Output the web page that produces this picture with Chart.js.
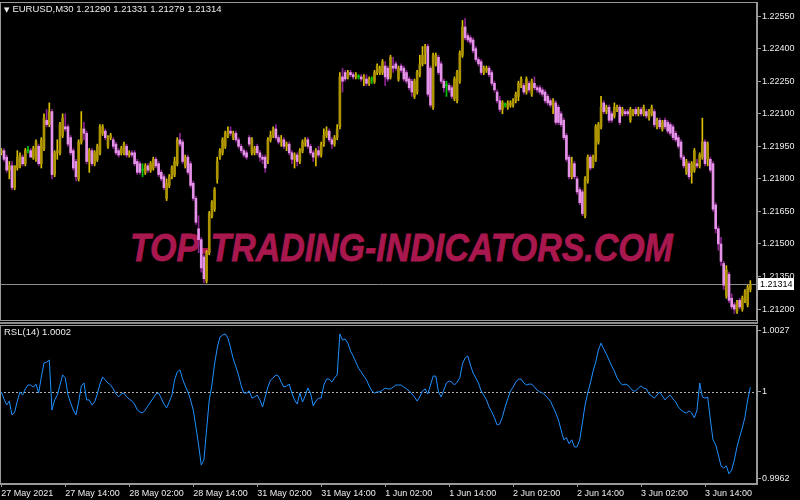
<!DOCTYPE html>
<html>
<head>
<meta charset="utf-8">
<title>EURUSD,M30 with RSL(14)</title>
<script src="https://cdn.jsdelivr.net/npm/chart.js@4.4.0/dist/chart.umd.min.js"></script>
<style>
  html, body { margin: 0; padding: 0; background: #000; }
  #wrap { position: relative; width: 800px; height: 500px; overflow: hidden; background: #000; font-family: "Liberation Sans", Arial, sans-serif; }
  #mark { position: absolute; left: 130px; top: 228px; font: italic bold 39px/39px "Liberation Sans", sans-serif; color: #a8184e; -webkit-text-stroke: 0.8px #a8184e; white-space: nowrap; transform-origin: 0 0; transform: scaleX(0.87); }
  canvas { position: absolute; left: 0; }
  #priceChart { top: 0; }
  #rslChart { top: 322px; }
  #sep { position: absolute; left: 0; top: 322px; width: 758px; height: 2px; background: #8c8c8c; }
  .label { position: absolute; color: #ececec; font-size: 9.5px; line-height: 11px; white-space: nowrap; }
  .tri { font-family: "DejaVu Sans", sans-serif; font-size: 7px; margin-right: 3px; }
</style>
</head>
<body>
<div id="wrap">
  <div id="mark">TOP-TRADING-INDICATORS.COM</div>
  <canvas id="priceChart" width="800" height="322"></canvas>
  <div id="sep"></div>
  <canvas id="rslChart" width="800" height="178"></canvas>
  <div class="label" style="left:4px; top:3px;"><span class="tri">▼</span><span id="head"></span></div>
  <div class="label" id="rslHead" style="left:4px; top:326px;"></div>
</div>
<script>
// chart text
const symbolTitle = 'EURUSD,M30';
const rslTitle = 'RSL(14)';
const tickLabels = ['27 May 2021', '27 May 14:00', '28 May 02:00', '28 May 14:00', '31 May 02:00', '31 May 14:00',
    '1 Jun 02:00', '1 Jun 14:00', '2 Jun 02:00', '2 Jun 14:00', '3 Jun 02:00', '3 Jun 14:00'];
const barsPerTick = 24;
const slotCount = 284; // 282 bars + empty shift at the right edge

// axes
const priceTicks = [1.2255, 1.224, 1.2225, 1.221, 1.2195, 1.218, 1.2165, 1.215, 1.2135, 1.212];
const priceMin = 1.21145, priceMax = 1.22615;
const rslTicks = [0.9962, 1, 1.0027];
const rslMin = 0.99598, rslMax = 1.00292;
const rslLevel = 1;

// M30 candles
const opens = [
    1.2192, 1.2193, 1.2190, 1.2184, 1.2186, 1.2176, 1.2185, 1.2186, 1.2190, 1.2187,
    1.2193, 1.2193, 1.2190, 1.2189, 1.2195, 1.2187, 1.2194, 1.2207, 1.2205, 1.2211,
    1.2182, 1.2192, 1.2192, 1.2200, 1.2204, 1.2204, 1.2199, 1.2193, 1.2188, 1.2180,
    1.2197, 1.2203, 1.2201, 1.2188, 1.2193, 1.2187, 1.2189, 1.2192, 1.2201, 1.2202,
    1.2195, 1.2199, 1.2198, 1.2196, 1.2193, 1.2192, 1.2192, 1.2195, 1.2191, 1.2192,
    1.2192, 1.2188, 1.2187, 1.2184, 1.2183, 1.2186, 1.2184, 1.2185, 1.2189, 1.2187,
    1.2183, 1.2181, 1.2171, 1.2177, 1.2181, 1.2182, 1.2187, 1.2198, 1.2197, 1.2186,
    1.2190, 1.2187, 1.2178, 1.2171, 1.2157, 1.2152, 1.2144, 1.2133, 1.2146, 1.2163,
    1.2166, 1.2180, 1.2190, 1.2192, 1.2195, 1.2200, 1.2202, 1.2199, 1.2201, 1.2198,
    1.2195, 1.2193, 1.2192, 1.2199, 1.2192, 1.2192, 1.2195, 1.2192, 1.2190, 1.2190,
    1.2189, 1.2198, 1.2200, 1.2203, 1.2199, 1.2197, 1.2198, 1.2195, 1.2196, 1.2192,
    1.2189, 1.2191, 1.2188, 1.2193, 1.2197, 1.2198, 1.2195, 1.2192, 1.2190, 1.2193,
    1.2191, 1.2196, 1.2200, 1.2202, 1.2198, 1.2196, 1.2199, 1.2204, 1.2227, 1.2229,
    1.2227, 1.2229, 1.2228, 1.2227, 1.2227, 1.2227, 1.2226, 1.2226, 1.2224, 1.2226,
    1.2225, 1.2229, 1.2229, 1.2229, 1.2232, 1.2231, 1.2227, 1.2232, 1.2233, 1.2226,
    1.2232, 1.2231, 1.2229, 1.2226, 1.2225, 1.2218, 1.2220, 1.2228, 1.2233, 1.2238,
    1.2241, 1.2231, 1.2213, 1.2233, 1.2236, 1.2233, 1.2225, 1.2223, 1.2223, 1.2222,
    1.2217, 1.2216, 1.2225, 1.2237, 1.2250, 1.2246, 1.2245, 1.2244, 1.2240, 1.2235,
    1.2234, 1.2229, 1.2230, 1.2231, 1.2229, 1.2224, 1.2220, 1.2216, 1.2212, 1.2214,
    1.2213, 1.2214, 1.2214, 1.2216, 1.2218, 1.2223, 1.2223, 1.2220, 1.2224, 1.2219,
    1.2224, 1.2222, 1.2222, 1.2221, 1.2220, 1.2218, 1.2216, 1.2214, 1.2215, 1.2213,
    1.2210, 1.2207, 1.2200, 1.2190, 1.2181, 1.2187, 1.2180, 1.2175, 1.2174, 1.2163,
    1.2179, 1.2190, 1.2186, 1.2189, 1.2197, 1.2204, 1.2215, 1.2211, 1.2213, 1.2210,
    1.2209, 1.2212, 1.2213, 1.2210, 1.2211, 1.2211, 1.2207, 1.2210, 1.2212, 1.2210,
    1.2212, 1.2210, 1.2211, 1.2208, 1.2210, 1.2211, 1.2204, 1.2207, 1.2203, 1.2207,
    1.2206, 1.2205, 1.2204, 1.2201, 1.2199, 1.2197, 1.2190, 1.2183, 1.2187, 1.2183,
    1.2184, 1.2187, 1.2186, 1.2190, 1.2197, 1.2189, 1.2189, 1.2187, 1.2168, 1.2157,
    1.2150, 1.2141, 1.2126, 1.2136, 1.2125, 1.2122, 1.2119, 1.2124, 1.2120, 1.2124,
    1.2122, 1.21290
];
const highs = [
    1.2194, 1.2194, 1.2191, 1.2188, 1.2188, 1.2186, 1.2193, 1.2192, 1.2191, 1.2194,
    1.2195, 1.2194, 1.2195, 1.2198, 1.2196, 1.2199, 1.2210, 1.2212, 1.2215, 1.2212,
    1.2193, 1.2198, 1.2206, 1.2210, 1.2210, 1.2205, 1.2200, 1.2194, 1.2189, 1.2198,
    1.2211, 1.2206, 1.2202, 1.2194, 1.2194, 1.2193, 1.2196, 1.2205, 1.2205, 1.2203,
    1.2200, 1.2201, 1.2199, 1.2197, 1.2194, 1.2195, 1.2197, 1.2196, 1.2193, 1.2193,
    1.2193, 1.2189, 1.2188, 1.2187, 1.2187, 1.2187, 1.2188, 1.2190, 1.2190, 1.2188,
    1.2184, 1.2182, 1.2180, 1.2182, 1.2186, 1.2190, 1.2199, 1.2201, 1.2198, 1.2191,
    1.2191, 1.2188, 1.2179, 1.2172, 1.2163, 1.2153, 1.2145, 1.2147, 1.2165, 1.2170,
    1.2176, 1.2190, 1.2194, 1.2199, 1.2202, 1.2204, 1.2204, 1.2202, 1.2202, 1.2199,
    1.2196, 1.2194, 1.2193, 1.2200, 1.2199, 1.2195, 1.2196, 1.2193, 1.2191, 1.2191,
    1.2199, 1.2202, 1.2204, 1.2205, 1.2200, 1.2200, 1.2199, 1.2197, 1.2197, 1.2193,
    1.2192, 1.2192, 1.2194, 1.2198, 1.2199, 1.2199, 1.2196, 1.2193, 1.2194, 1.2195,
    1.2197, 1.2203, 1.2204, 1.2203, 1.2199, 1.2200, 1.2205, 1.2229, 1.2231, 1.2230,
    1.2230, 1.2230, 1.2229, 1.2229, 1.2228, 1.2228, 1.2228, 1.2228, 1.2227, 1.2227,
    1.2230, 1.2233, 1.2232, 1.2235, 1.2234, 1.2232, 1.2237, 1.2236, 1.2234, 1.2232,
    1.2233, 1.2232, 1.2230, 1.2227, 1.2226, 1.2226, 1.2230, 1.2237, 1.2241, 1.2242,
    1.2242, 1.2232, 1.2238, 1.2238, 1.2237, 1.2234, 1.2226, 1.2225, 1.2224, 1.2223,
    1.2227, 1.2230, 1.2239, 1.2253, 1.2254, 1.2247, 1.2246, 1.2245, 1.2241, 1.2236,
    1.2235, 1.2232, 1.2232, 1.2232, 1.2230, 1.2225, 1.2221, 1.2218, 1.2216, 1.2215,
    1.2216, 1.2216, 1.2217, 1.2220, 1.2225, 1.2227, 1.2224, 1.2227, 1.2225, 1.2226,
    1.2227, 1.2223, 1.2223, 1.2222, 1.2221, 1.2219, 1.2217, 1.2217, 1.2216, 1.2214,
    1.2211, 1.2208, 1.2201, 1.2191, 1.2190, 1.2188, 1.2181, 1.2176, 1.2175, 1.2181,
    1.2191, 1.2191, 1.2191, 1.2205, 1.2206, 1.2218, 1.2216, 1.2214, 1.2214, 1.2211,
    1.2215, 1.2214, 1.2214, 1.2213, 1.2212, 1.2212, 1.2213, 1.2212, 1.2213, 1.2213,
    1.2213, 1.2214, 1.2212, 1.2212, 1.2214, 1.2212, 1.2208, 1.2208, 1.2207, 1.2208,
    1.2207, 1.2206, 1.2205, 1.2202, 1.2200, 1.2198, 1.2191, 1.2189, 1.2188, 1.2188,
    1.2194, 1.2189, 1.2192, 1.2208, 1.2198, 1.2197, 1.2190, 1.2188, 1.2169, 1.2158,
    1.2153, 1.2142, 1.2140, 1.2137, 1.2127, 1.2123, 1.2124, 1.2125, 1.2126, 1.2129,
    1.2131, 1.21331
];
const lows = [
    1.2191, 1.2188, 1.2183, 1.2180, 1.2175, 1.2175, 1.2184, 1.2185, 1.2186, 1.2186,
    1.2192, 1.2190, 1.2189, 1.2188, 1.2186, 1.2185, 1.2193, 1.2204, 1.2204, 1.2180,
    1.2181, 1.2189, 1.2191, 1.2199, 1.2202, 1.2195, 1.2191, 1.2184, 1.2179, 1.2179,
    1.2196, 1.2198, 1.2187, 1.2183, 1.2186, 1.2186, 1.2188, 1.2191, 1.2200, 1.2198,
    1.2194, 1.2198, 1.2194, 1.2191, 1.2190, 1.2191, 1.2191, 1.2190, 1.2190, 1.2190,
    1.2186, 1.2182, 1.2182, 1.2181, 1.2182, 1.2183, 1.2183, 1.2184, 1.2185, 1.2181,
    1.2179, 1.2175, 1.2170, 1.2176, 1.2180, 1.2181, 1.2186, 1.2195, 1.2187, 1.2185,
    1.2182, 1.2176, 1.2170, 1.2159, 1.2146, 1.2137, 1.2132, 1.2132, 1.2145, 1.2162,
    1.2165, 1.2178, 1.2189, 1.2191, 1.2194, 1.2199, 1.2200, 1.2198, 1.2197, 1.2194,
    1.2192, 1.2190, 1.2189, 1.2195, 1.2191, 1.2191, 1.2191, 1.2188, 1.2187, 1.2183,
    1.2187, 1.2197, 1.2199, 1.2198, 1.2196, 1.2195, 1.2194, 1.2193, 1.2191, 1.2187,
    1.2185, 1.2186, 1.2187, 1.2192, 1.2195, 1.2194, 1.2191, 1.2188, 1.2186, 1.2190,
    1.2190, 1.2195, 1.2199, 1.2197, 1.2194, 1.2195, 1.2198, 1.2203, 1.2220, 1.2225,
    1.2226, 1.2227, 1.2226, 1.2226, 1.2226, 1.2225, 1.2223, 1.2223, 1.2223, 1.2224,
    1.2224, 1.2228, 1.2228, 1.2228, 1.2223, 1.2225, 1.2226, 1.2229, 1.2230, 1.2225,
    1.2229, 1.2225, 1.2224, 1.2221, 1.2218, 1.2217, 1.2219, 1.2227, 1.2232, 1.2233,
    1.2218, 1.2213, 1.2212, 1.2232, 1.2228, 1.2224, 1.2220, 1.2218, 1.2220, 1.2217,
    1.2216, 1.2215, 1.2224, 1.2236, 1.2244, 1.2243, 1.2242, 1.2238, 1.2234, 1.2232,
    1.2228, 1.2228, 1.2229, 1.2227, 1.2223, 1.2220, 1.2215, 1.2211, 1.2210, 1.2213,
    1.2212, 1.2213, 1.2213, 1.2215, 1.2216, 1.2222, 1.2219, 1.2219, 1.2220, 1.2218,
    1.2221, 1.2220, 1.2219, 1.2218, 1.2215, 1.2214, 1.2213, 1.2210, 1.2205, 1.2205,
    1.2204, 1.2198, 1.2188, 1.2180, 1.2180, 1.2180, 1.2173, 1.2168, 1.2163, 1.2162,
    1.2178, 1.2184, 1.2185, 1.2188, 1.2196, 1.2203, 1.2210, 1.2210, 1.2206, 1.2206,
    1.2208, 1.2211, 1.2205, 1.2209, 1.2209, 1.2209, 1.2206, 1.2209, 1.2209, 1.2209,
    1.2209, 1.2209, 1.2208, 1.2207, 1.2209, 1.2204, 1.2203, 1.2203, 1.2202, 1.2203,
    1.2201, 1.2200, 1.2198, 1.2197, 1.2194, 1.2189, 1.2185, 1.2182, 1.2180, 1.2178,
    1.2183, 1.2185, 1.2185, 1.2189, 1.2186, 1.2186, 1.2183, 1.2165, 1.2155, 1.2147,
    1.2140, 1.2129, 1.2125, 1.2123, 1.2120, 1.2118, 1.2118, 1.2120, 1.2119, 1.2123,
    1.2121, 1.21279
];
const closes = [
    1.2193, 1.2189, 1.2184, 1.2186, 1.2176, 1.2186, 1.2190, 1.2191, 1.2187, 1.2193,
    1.2193, 1.2190, 1.2194, 1.2197, 1.2187, 1.2198, 1.2208, 1.2205, 1.2211, 1.2182,
    1.2192, 1.2193, 1.2205, 1.2208, 1.2203, 1.2196, 1.2192, 1.2185, 1.2181, 1.2197,
    1.2203, 1.2201, 1.2188, 1.2193, 1.2187, 1.2192, 1.2195, 1.2204, 1.2204, 1.2199,
    1.2199, 1.2200, 1.2195, 1.2192, 1.2191, 1.2194, 1.2196, 1.2191, 1.2192, 1.2191,
    1.2187, 1.2183, 1.2183, 1.2184, 1.2186, 1.2184, 1.2187, 1.2189, 1.2186, 1.2182,
    1.2180, 1.2176, 1.2178, 1.2181, 1.2185, 1.2188, 1.2198, 1.2196, 1.2188, 1.2190,
    1.2183, 1.2177, 1.2171, 1.2160, 1.2152, 1.2139, 1.2134, 1.2146, 1.2164, 1.2169,
    1.2175, 1.2188, 1.2193, 1.2198, 1.2201, 1.2202, 1.2201, 1.2201, 1.2198, 1.2195,
    1.2193, 1.2191, 1.2190, 1.2196, 1.2198, 1.2194, 1.2192, 1.2190, 1.2189, 1.2185,
    1.2198, 1.2200, 1.2203, 1.2199, 1.2197, 1.2198, 1.2195, 1.2196, 1.2192, 1.2189,
    1.2191, 1.2188, 1.2193, 1.2197, 1.2198, 1.2195, 1.2192, 1.2190, 1.2193, 1.2191,
    1.2196, 1.2200, 1.2202, 1.2198, 1.2196, 1.2199, 1.2203, 1.2227, 1.2225, 1.2226,
    1.2229, 1.2228, 1.2227, 1.2228, 1.2227, 1.2226, 1.2227, 1.2224, 1.2226, 1.2226,
    1.2229, 1.2232, 1.2231, 1.2234, 1.2227, 1.2226, 1.2236, 1.2231, 1.2231, 1.2231,
    1.2230, 1.2226, 1.2225, 1.2222, 1.2220, 1.2225, 1.2229, 1.2233, 1.2237, 1.2241,
    1.2219, 1.2214, 1.2237, 1.2237, 1.2229, 1.2225, 1.2222, 1.2223, 1.2221, 1.2218,
    1.2226, 1.2229, 1.2238, 1.2250, 1.2245, 1.2244, 1.2243, 1.2239, 1.2235, 1.2233,
    1.2229, 1.2231, 1.2231, 1.2228, 1.2224, 1.2221, 1.2216, 1.2212, 1.2215, 1.2214,
    1.2215, 1.2215, 1.2216, 1.2219, 1.2224, 1.2226, 1.2220, 1.2226, 1.2221, 1.2225,
    1.2222, 1.2221, 1.2220, 1.2219, 1.2216, 1.2215, 1.2214, 1.2216, 1.2206, 1.2206,
    1.2205, 1.2199, 1.2189, 1.2181, 1.2187, 1.2181, 1.2174, 1.2169, 1.2164, 1.2180,
    1.2190, 1.2185, 1.2190, 1.2204, 1.2205, 1.2213, 1.2211, 1.2213, 1.2207, 1.2207,
    1.2213, 1.2213, 1.2206, 1.2212, 1.2210, 1.2210, 1.2212, 1.2211, 1.2210, 1.2212,
    1.2210, 1.2213, 1.2209, 1.2211, 1.2213, 1.2205, 1.2207, 1.2204, 1.2206, 1.2204,
    1.2202, 1.2201, 1.2199, 1.2198, 1.2195, 1.2190, 1.2186, 1.2188, 1.2181, 1.2187,
    1.2193, 1.2186, 1.2191, 1.2197, 1.2187, 1.2196, 1.2184, 1.2166, 1.2157, 1.2150,
    1.2142, 1.2131, 1.2138, 1.2124, 1.2121, 1.2120, 1.2123, 1.2121, 1.2125, 1.2128,
    1.2130, 1.21314
];

// RSL(14) indicator values
const rsl = [
    1.00000, 0.99969, 0.99943, 0.99960, 0.99899, 0.99912, 0.99960, 1.00000, 0.99986, 1.00013,
    1.00030, 1.00030, 1.00021, 1.00034, 0.99995, 1.00065, 1.00126, 1.00130, 1.00139, 0.99921,
    0.99965, 0.99986, 1.00030, 1.00074, 1.00061, 0.99986, 0.99952, 0.99921, 0.99899, 0.99956,
    1.00026, 1.00039, 0.99965, 0.99965, 0.99943, 0.99956, 0.99991, 1.00034, 1.00065, 1.00052,
    1.00039, 1.00030, 1.00013, 0.99991, 0.99978, 0.99991, 0.99995, 0.99978, 0.99969, 0.99960,
    0.99947, 0.99921, 0.99912, 0.99908, 0.99921, 0.99939, 0.99956, 0.99973, 0.99991, 0.99995,
    0.99973, 0.99947, 0.99930, 0.99956, 0.99986, 1.00052, 1.00087, 1.00096, 1.00056, 1.00026,
    1.00000, 0.99965, 0.99921, 0.99847, 0.99769, 0.99681, 0.99703, 0.99834, 0.99965, 1.00030,
    1.00122, 1.00192, 1.00239, 1.00248, 1.00253, 1.00235, 1.00192, 1.00144, 1.00109, 1.00074,
    1.00026, 0.99995, 0.99995, 1.00004, 0.99973, 0.99978, 0.99986, 0.99965, 0.99934, 0.99978,
    1.00021, 1.00052, 1.00061, 1.00074, 1.00069, 1.00043, 1.00021, 1.00026, 1.00034, 0.99995,
    0.99965, 0.99947, 0.99995, 0.99956, 0.99982, 1.00017, 0.99995, 0.99939, 0.99960, 0.99973,
    0.99973, 1.00030, 1.00056, 1.00056, 1.00043, 1.00061, 1.00074, 1.00253, 1.00226, 1.00231,
    1.00213, 1.00178, 1.00157, 1.00130, 1.00104, 1.00087, 1.00069, 1.00052, 1.00026, 1.00004,
    0.99995, 1.00000, 1.00000, 1.00008, 1.00017, 1.00013, 1.00013, 1.00021, 1.00030, 1.00030,
    1.00030, 1.00021, 1.00013, 1.00004, 0.99991, 0.99978, 0.99960, 0.99978, 1.00004, 1.00013,
    0.99991, 1.00030, 1.00069, 1.00069, 1.00000, 0.99978, 1.00008, 1.00039, 1.00048, 1.00043,
    1.00030, 1.00043, 1.00061, 1.00122, 1.00148, 1.00157, 1.00117, 1.00082, 1.00061, 1.00039,
    1.00004, 0.99986, 0.99965, 0.99934, 0.99912, 0.99887, 0.99856, 0.99860, 0.99891, 0.99934,
    0.99969, 1.00004, 1.00021, 1.00043, 1.00056, 1.00056, 1.00039, 1.00030, 1.00034, 1.00034,
    1.00021, 1.00008, 1.00000, 0.99995, 0.99986, 0.99973, 0.99960, 0.99934, 0.99908, 0.99878,
    0.99834, 0.99791, 0.99800, 0.99774, 0.99791, 0.99760, 0.99760, 0.99791, 0.99865, 0.99943,
    0.99995, 1.00039, 1.00091, 1.00130, 1.00183, 1.00213, 1.00187, 1.00165, 1.00139, 1.00113,
    1.00091, 1.00061, 1.00043, 1.00030, 1.00034, 1.00030, 1.00017, 1.00004, 1.00004, 1.00017,
    1.00026, 1.00017, 1.00013, 0.99991, 0.99982, 0.99973, 0.99986, 1.00000, 0.99982, 0.99965,
    0.99978, 0.99986, 0.99969, 0.99956, 0.99934, 0.99921, 0.99912, 0.99908, 0.99917, 0.99908,
    0.99887, 0.99921, 1.00039, 0.99978, 0.99973, 0.99978, 0.99878, 0.99791, 0.99769, 0.99725,
    0.99677, 0.99668, 0.99677, 0.99642, 0.99659, 0.99703, 0.99760, 0.99804, 0.99843, 0.99891,
    0.99965, 1.00020
];

const textColor = '#ececec',
    frameColor = '#9a9a9a',
    axisFont = { family: 'Liberation Sans', size: 9 },
    bullBody = '#ad9400', bullWick = '#dcc000',
    bearBody = '#e592e9', bearWick = '#8b2390',
    dojiColor = '#00c800';

const slots = Array.from({ length: slotCount }, (_, i) => i),
    last = closes.length - 1;

document.getElementById('head').textContent =
    symbolTitle + '  ' + [opens[last], highs[last], lows[last], closes[last]].map(v => v.toFixed(5)).join(' ');
document.getElementById('rslHead').textContent = rslTitle + ' ' + rsl[last].toFixed(4);

// candle colours from direction
const bodyColors = opens.map((o, i) => closes[i] > o ? bullBody : closes[i] < o ? bearBody : dojiColor),
    wickColors = opens.map((o, i) => closes[i] > o ? bullWick : closes[i] < o ? bearWick : dojiColor);

// frame around each plot area
const frame = {
    id: 'frame',
    afterDraw(chart) {
        const { ctx, chartArea: a } = chart;
        ctx.save();
        ctx.strokeStyle = frameColor;
        ctx.lineWidth = 1;
        ctx.strokeRect(a.left + 0.5, a.top + 0.5, a.right - a.left - 1, a.bottom - a.top - 1);
        ctx.restore();
    }
};

// bid line with its price box
const bidLine = {
    id: 'bidLine',
    beforeDatasetsDraw(chart) {
        const { ctx, chartArea: a, scales: { y } } = chart;
        const py = Math.round(y.getPixelForValue(closes[last])) + 0.5;
        ctx.save();
        ctx.strokeStyle = '#8c8c8c';
        ctx.beginPath();
        ctx.moveTo(a.left, py);
        ctx.lineTo(a.right, py);
        ctx.stroke();
        ctx.restore();
    },
    afterDraw(chart) {
        const { ctx, chartArea: a, scales: { y } } = chart;
        const py = Math.round(y.getPixelForValue(closes[last]));
        ctx.save();
        ctx.fillStyle = '#ffffff';
        ctx.fillRect(a.right + 1, py - 6, 36, 12);
        ctx.fillStyle = '#000000';
        ctx.font = '9px "Liberation Sans"';
        ctx.textBaseline = 'middle';
        ctx.fillText(closes[last].toFixed(5), a.right + 3, py + 0.5);
        ctx.restore();
    }
};

// dotted level line on the indicator
const levelLine = {
    id: 'levelLine',
    beforeDatasetsDraw(chart) {
        const { ctx, chartArea: a, scales: { y } } = chart;
        const py = Math.round(y.getPixelForValue(rslLevel)) + 0.5;
        ctx.save();
        ctx.strokeStyle = '#b0b0b0';
        ctx.setLineDash([2, 2]);
        ctx.beginPath();
        ctx.moveTo(a.left, py);
        ctx.lineTo(a.right, py);
        ctx.stroke();
        ctx.restore();
    }
};

const rightAxis = (min, max, ticks, fmt) => ({
    position: 'right',
    min: min,
    max: max,
    afterBuildTicks: (axis) => { axis.ticks = ticks.map(v => ({ value: v })); },
    afterFit: (axis) => {
        axis.width = 43;
        axis.paddingTop = 0;
        axis.paddingBottom = 0;
    },
    ticks: { color: textColor, font: axisFont, padding: 1, callback: fmt },
    grid: { drawOnChartArea: false, color: frameColor, tickLength: 4 },
    border: { color: frameColor }
});

// price chart
new Chart(document.getElementById('priceChart'), {
    type: 'bar',
    data: {
        labels: slots,
        datasets: [{
            data: lows.map((l, i) => [l, highs[i]]),
            backgroundColor: wickColors,
            barThickness: 1,
            grouped: false,
            order: 2
        }, {
            data: opens.map((o, i) => [o, closes[i]]),
            backgroundColor: bodyColors,
            barThickness: 2,
            minBarLength: 1,
            grouped: false,
            order: 1
        }]
    },
    options: {
        responsive: false,
        animation: false,
        devicePixelRatio: 1,
        layout: { padding: { left: 0, top: 2, right: 0, bottom: 1 } },
        plugins: { legend: { display: false }, tooltip: { enabled: false } },
        scales: {
            x: { display: false, offset: true },
            y: rightAxis(priceMin, priceMax, priceTicks, v => v.toFixed(5))
        }
    },
    plugins: [frame, bidLine]
});

// RSL chart
new Chart(document.getElementById('rslChart'), {
    type: 'line',
    data: {
        labels: slots,
        datasets: [{
            data: rsl,
            borderColor: '#1e90ff',
            borderWidth: 1,
            pointRadius: 0,
            tension: 0,
            fill: false
        }]
    },
    options: {
        responsive: false,
        animation: false,
        devicePixelRatio: 1,
        layout: { padding: { left: 0, top: 3, right: 0, bottom: 0 } },
        plugins: { legend: { display: false }, tooltip: { enabled: false } },
        scales: {
            x: {
                offset: true,
                afterFit: (axis) => {
                    axis.height = 16;
                    axis.paddingLeft = 0;
                    axis.paddingRight = 0;
                },
                ticks: {
                    color: textColor, font: axisFont, autoSkip: false, maxRotation: 0, align: 'start', padding: 1,
                    callback: (v, i) => (i % barsPerTick === 0 && i / barsPerTick < tickLabels.length) ? tickLabels[i / barsPerTick] : null
                },
                grid: { drawOnChartArea: false, color: frameColor, tickLength: 3 },
                border: { color: frameColor }
            },
            y: rightAxis(rslMin, rslMax, rslTicks, v => v === 1 ? '1' : v.toFixed(4))
        }
    },
    plugins: [frame, levelLine]
});
</script>
</body>
</html>
